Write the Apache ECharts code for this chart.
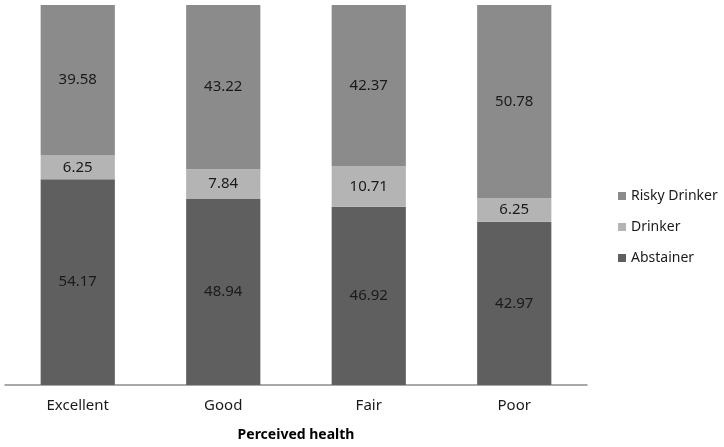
<!DOCTYPE html>
<html><head><meta charset="utf-8">
<script src="https://cdn.jsdelivr.net/npm/echarts@6/dist/echarts.min.js"></script>
<style>html,body{margin:0;padding:0;background:#fff}#c{width:724px;height:447px}</style>
</head><body><div id="c"></div>
<script>
var categories = ['Excellent', 'Good', 'Fair', 'Poor'];
var abstainer = [54.17, 48.94, 46.92, 42.97];
var drinker = [6.25, 7.84, 10.71, 6.25];
var risky = [39.58, 43.22, 42.37, 50.78];
var xTitle = 'Perceived health';

var font = 'Noto Sans';
var lbl = {show: true, position: 'inside', color: '#1a1a1a', fontSize: 15, fontFamily: font, formatter: function(p){return p.value.toFixed(2);}};
function s(name, data, color) {
  return {name: name, type: 'bar', stack: 'a', data: data, barWidth: '51%', itemStyle: {color: color}, label: lbl};
}
var chart = echarts.init(document.getElementById('c'));
chart.setOption({
  animation: false,
  grid: {left: 5, right: 137, top: 5, bottom: 59},
  legend: {
    orient: 'vertical', left: 613, top: 184, itemWidth: 8, itemHeight: 8, itemGap: 17,
    icon: 'rect',
    textStyle: {fontFamily: font, fontSize: 14, color: '#1a1a1a'},
    data: ['Risky Drinker', 'Drinker', 'Abstainer']
  },
  xAxis: {
    type: 'category', data: categories,
    name: xTitle, nameLocation: 'middle', nameGap: 43,
    nameTextStyle: {fontFamily: font, fontSize: 14, fontWeight: 'bold', color: '#000'},
    axisLine: {lineStyle: {color: '#8c8c8c', width: 1.5}},
    axisTick: {show: false},
    axisLabel: {fontFamily: font, fontSize: 15, color: '#1a1a1a', margin: 13}
  },
  yAxis: {type: 'value', min: 0, max: 100, show: false},
  series: [
    s('Abstainer', abstainer, '#5f5f5f'),
    s('Drinker', drinker, '#b4b4b4'),
    s('Risky Drinker', risky, '#8b8b8b')
  ]
});
</script></body></html>
